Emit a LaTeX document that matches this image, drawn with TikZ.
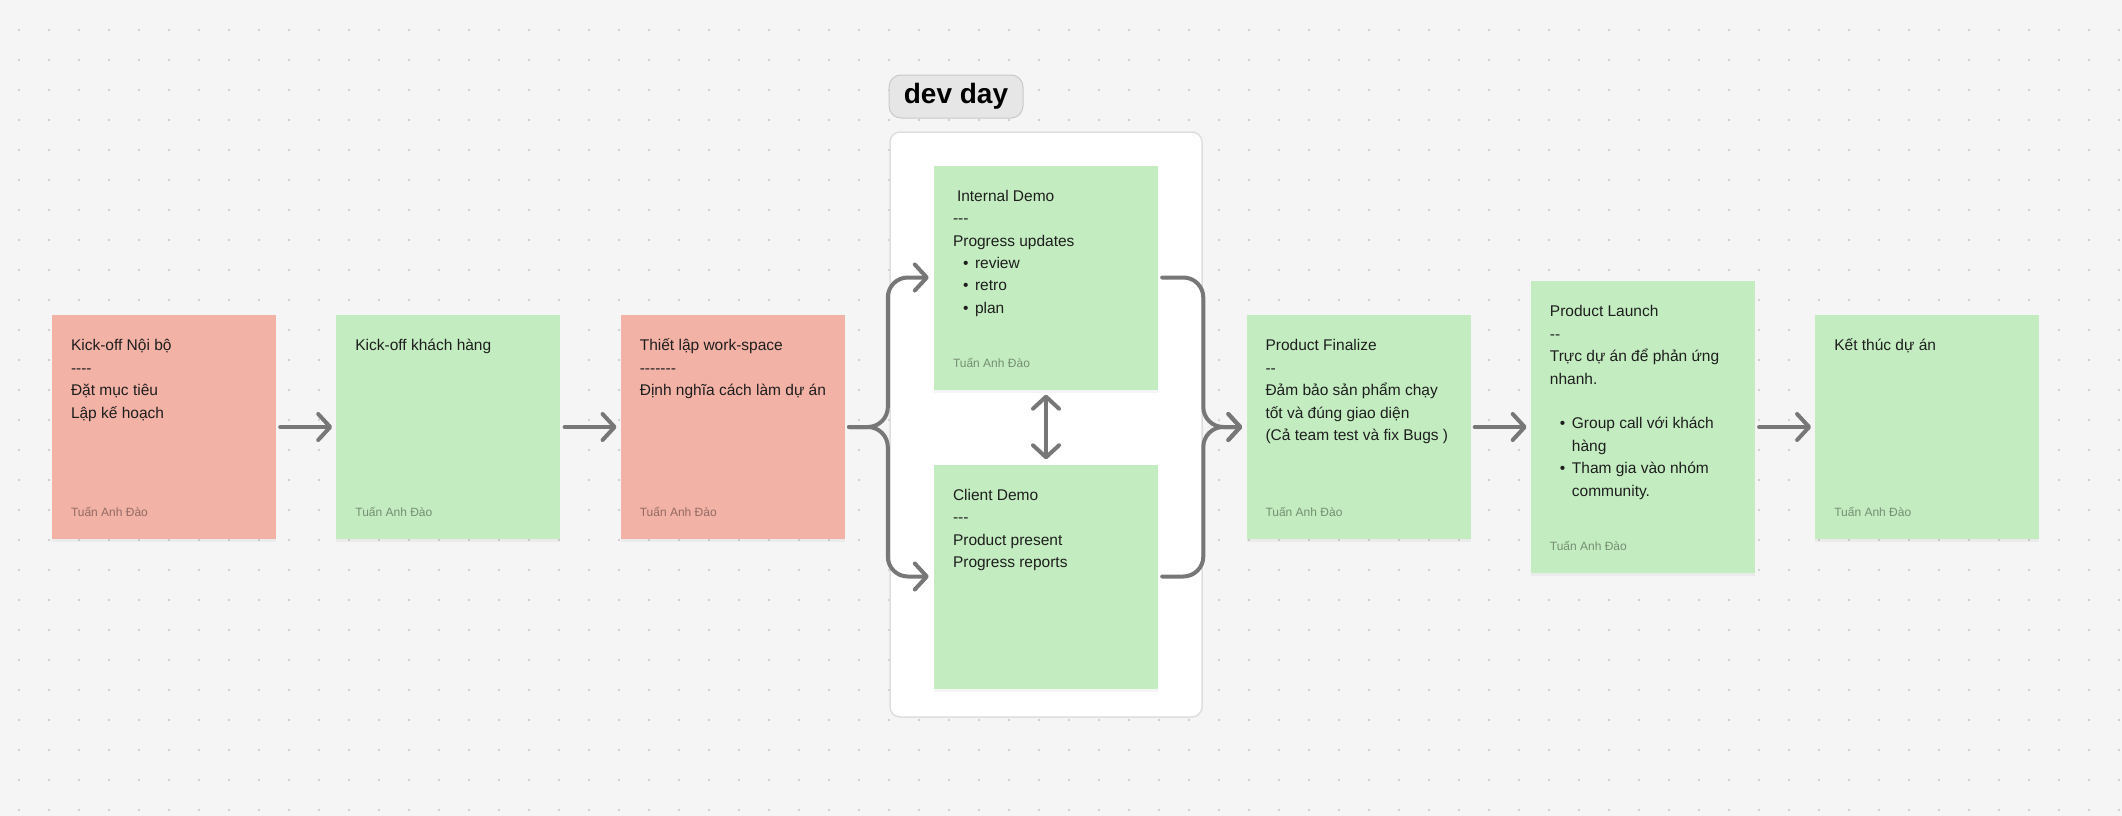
\documentclass[tikz,border=0pt]{standalone}
\usepackage{fontspec}
\setmainfont{Liberation Sans}
\usetikzlibrary{arrows.meta, positioning, shadows}
\definecolor{canvas}{HTML}{F5F5F5}
\definecolor{dotgray}{HTML}{C4C4C4}
\definecolor{salmon}{HTML}{F3B2A6}
\definecolor{mint}{HTML}{C3EDC0}
\definecolor{flowgray}{HTML}{777777}
\definecolor{inkdark}{HTML}{1E1E1E}
\definecolor{tagfill}{HTML}{E6E6E6}
\definecolor{tagline}{HTML}{C9C9C9}
\definecolor{frameline}{HTML}{DEDEDE}

\newcommand{\hy}{\mbox{-}}
\newcommand{\itm}[1]{\hspace*{10pt}\makebox[12pt][l]{•}#1}
\newcommand{\cardtext}[1]{\parbox[t]{205pt}{\fontsize{15.5}{22.4}\selectfont #1}}

\tikzset{
  card/.style={minimum width=224pt, minimum height=224pt, inner sep=0pt,
    drop shadow={shadow xshift=0pt, shadow yshift=-3pt, opacity=0.08}},
  redcard/.style={card, fill=salmon},
  greencard/.style={card, fill=mint},
  note/.style={anchor=base west, inner sep=0pt, text=inkdark},
  sign/.style={anchor=base west, inner sep=0pt, font=\fontsize{12}{14}\selectfont,
    text=black, text opacity=0.4},
  flow/.style={draw=flowgray, line width=4pt, line cap=round, line join=round, ->},
  frame/.style={draw=frameline, line width=1.5pt, fill=white, rounded corners=10pt,
    minimum width=312pt, minimum height=585pt, inner sep=0pt},
  tag/.style={draw=tagline, line width=1pt, fill=tagfill, rounded corners=12pt,
    minimum width=134pt, minimum height=43pt, inner sep=0pt,
    font=\fontsize{28}{30}\selectfont\bfseries, text=black}
}

\begin{document}
\begin{tikzpicture}[x=1pt, y=-1pt, >={Straight Barb[length=12pt, width=26pt, round]}]
    % Canvas with dot grid
    \fill[canvas] (0,0) rectangle (2122,816);
    \useasboundingbox (0,0) rectangle (2122,816);
    \foreach \x in {19,49,...,2119}
        \foreach \y in {30,60,...,810}
            \fill[dotgray] (\x,\y) circle (1.1pt);

    % dev day frame
    \node[frame] (devframe) at (1046,424.5) {};
    \node[tag] (devtag) at (956,96.5) {dev day};

    % Cards
    \node[redcard] (kickoff) at (164,427) {};
    \node[greencard, right=60pt of kickoff] (kickclient) {};
    \node[redcard, right=60pt of kickclient] (workspace) {};
    \node[greencard] (internal) at (1046,277.5) {};
    \node[greencard] (client) at (1046,576.5) {};
    \node[greencard] (finalize) at (1358.5,427) {};
    \node[greencard, right=60pt of finalize, minimum height=292pt] (launch) {};
    \node[greencard, right=60pt of launch] (closing) {};

    % Card texts
    \node[note] (kickoffText) at ([shift={(19,36)}]kickoff.north west)
        {\cardtext{Kick-off Nội bộ\\\hy\hy\hy\hy\\Đặt mục tiêu\\Lập kế hoạch}};
    \node[note] (kickclientText) at ([shift={(19,36)}]kickclient.north west)
        {\cardtext{Kick-off khách hàng}};
    \node[note] (workspaceText) at ([shift={(19,36)}]workspace.north west)
        {\cardtext{Thiết lập work-space\\\hy\hy\hy\hy\hy\hy\hy\\Định nghĩa cách làm dự án}};
    \node[note] (internalText) at ([shift={(19,36)}]internal.north west)
        {\cardtext{\hspace*{4pt}Internal Demo\\\hy\hy\hy\\Progress updates\\\itm{review}\\\itm{retro}\\\itm{plan}}};
    \node[note] (clientText) at ([shift={(19,36)}]client.north west)
        {\cardtext{Client Demo\\\hy\hy\hy\\Product present\\Progress reports}};
    \node[note] (finalizeText) at ([shift={(19,36)}]finalize.north west)
        {\cardtext{Product Finalize\\\hy\hy\\Đảm bảo sản phẩm chạy\\tốt và đúng giao diện\\(Cả team test và fix Bugs )}};
    \node[note] (launchText) at ([shift={(19,36)}]launch.north west)
        {\cardtext{Product Launch\\\hy\hy\\Trực dự án để phản ứng\\nhanh.\\\mbox{}\\\itm{Group call với khách}\\\hspace*{22pt}hàng\\\itm{Tham gia vào nhóm}\\\hspace*{22pt}community.}};
    \node[note] (closingText) at ([shift={(19,36)}]closing.north west)
        {\cardtext{Kết thúc dự án}};

    % Author tags
    \node[sign] (kickoffSign) at ([shift={(19,-22.5)}]kickoff.south west) {Tuấn Anh Đào};
    \node[sign] (kickclientSign) at ([shift={(19,-22.5)}]kickclient.south west) {Tuấn Anh Đào};
    \node[sign] (workspaceSign) at ([shift={(19,-22.5)}]workspace.south west) {Tuấn Anh Đào};
    \node[sign] (internalSign) at ([shift={(19,-22.5)}]internal.south west) {Tuấn Anh Đào};
    \node[sign] (finalizeSign) at ([shift={(19,-22.5)}]finalize.south west) {Tuấn Anh Đào};
    \node[sign] (launchSign) at ([shift={(19,-22.5)}]launch.south west) {Tuấn Anh Đào};
    \node[sign] (closingSign) at ([shift={(19,-22.5)}]closing.south west) {Tuấn Anh Đào};

    % Straight connectors
    \draw[flow] ([xshift=4pt]kickoff.east) -- ([xshift=-4pt]kickclient.west);
    \draw[flow] ([xshift=4pt]kickclient.east) -- ([xshift=-4pt]workspace.west);
    \draw[flow] ([xshift=4pt]finalize.east) -- ([xshift=-4pt]launch.west);
    \draw[flow] ([xshift=4pt]launch.east) -- ([xshift=-4pt]closing.west);
    \draw[flow, <->] ([yshift=-5pt]internal.south) -- ([yshift=5pt]client.north);

    % Fork into dev day and merge out of it
    \draw[flow, rounded corners=20pt] ([xshift=4pt]workspace.east)
        -| ([xshift=-46pt]internal.west) -- ([xshift=-5pt]internal.west);
    \draw[flow, rounded corners=20pt] ([xshift=4pt]workspace.east)
        -| ([xshift=-46pt]client.west) -- ([xshift=-5pt]client.west);
    \draw[flow, rounded corners=20pt] ([xshift=4pt]internal.east)
        -| ([xshift=-43pt]finalize.west) -- ([xshift=-4pt]finalize.west);
    \draw[flow, rounded corners=20pt] ([xshift=4pt]client.east)
        -| ([xshift=-43pt]finalize.west) -- ([xshift=-4pt]finalize.west);
\end{tikzpicture}
\end{document}
